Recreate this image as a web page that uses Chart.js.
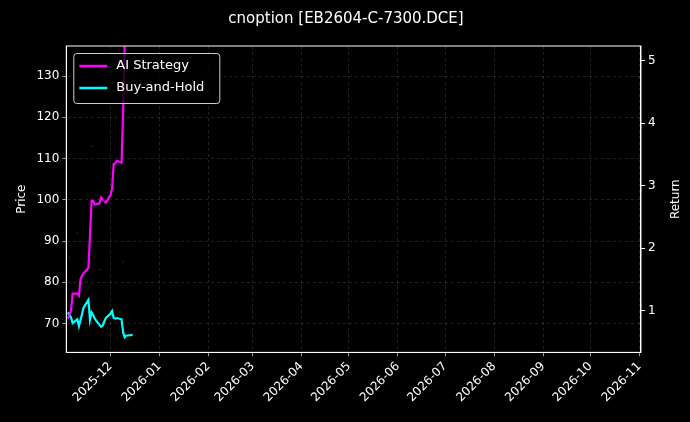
<!DOCTYPE html>
<html><head><meta charset="utf-8">
<script src="https://cdn.jsdelivr.net/npm/chart.js@4"></script>
<style>html,body{margin:0;background:#000;}#w{width:690px;height:422px;}</style>
</head><body><div id="w"><canvas id="c" width="690" height="422"></canvas></div>
<script>
const dates = ["2025-11-04","2025-11-06","2025-11-07","2025-11-10","2025-11-11","2025-11-12","2025-11-13","2025-11-14","2025-11-17","2025-11-18","2025-11-19","2025-11-20","2025-11-21","2025-11-24","2025-11-25","2025-11-26","2025-11-27","2025-11-28","2025-12-01","2025-12-02","2025-12-03","2025-12-04","2025-12-05","2025-12-08","2025-12-09","2025-12-10","2025-12-11","2025-12-12","2025-12-15"];
const aiStrategy = [0.87,1.0,1.27,1.27,1.24,1.5,1.56,1.6,1.68,2.2,2.76,2.76,2.7,2.72,2.81,2.78,2.76,2.73,2.85,2.95,3.35,3.36,3.4,3.37,4.2,5.3,5.6,5.7,5.8];
const buyHold = [0.97,0.89,0.80,0.86,0.75,0.85,0.95,1.05,1.17,0.85,0.97,0.93,0.87,0.77,0.74,0.76,0.82,0.88,0.95,0.99,0.88,0.87,0.88,0.86,0.65,0.57,0.60,0.60,0.61];
const priceDates = ["2025-11-05","2025-11-10","2025-11-19","2025-11-21","2025-11-24","2025-11-27","2025-12-09"];
const prices = [86,92,113,86,83,100,85];
const monthTicks = ["2025-12-01","2026-01-01","2026-02-01","2026-03-01","2026-04-01","2026-05-01","2026-06-01","2026-07-01","2026-08-01","2026-09-01","2026-10-01","2026-11-01"];
const xMin = "2025-11-03", xMax = "2026-11-02";

const ts = s => Date.parse(s + "T00:00:00Z");
const fmt = v => { const d = new Date(v); return d.getUTCFullYear() + "-" + String(d.getUTCMonth()+1).padStart(2,"0"); };
const F = "DejaVu Sans";
Chart.defaults.font.family = F;
Chart.defaults.color = "#fff";

const legendPlugin = {
  id: "lg",
  afterDraw(ch) {
    const c = ch.ctx, a = ch.chartArea;
    const x = a.left + 7, y = a.top + 7, w = 146, h = 50;
    c.save();
    c.fillStyle = "rgba(0,0,0,0.8)"; c.strokeStyle = "#ccc"; c.lineWidth = 1;
    c.beginPath(); c.roundRect(x + 0.5, y + 0.5, w, h, 3); c.fill(); c.stroke();
    const items = [["AI Strategy", "#ff00ff"], ["Buy-and-Hold", "#00ffff"]];
    c.font = "13px " + F; c.textBaseline = "middle";
    items.forEach((it, i) => {
      const yy = y + 13 + i * 22;
      c.strokeStyle = it[1]; c.lineWidth = 2.5;
      c.beginPath(); c.moveTo(x + 6, yy); c.lineTo(x + 34, yy); c.stroke();
      c.fillStyle = "#fff"; c.fillText(it[0], x + 43, yy);
    });
    // right axis title, reading bottom-to-top
    c.translate(676, (a.top + a.bottom) / 2);
    c.rotate(-Math.PI / 2);
    c.font = "12px " + F; c.textAlign = "center"; c.textBaseline = "middle";
    c.fillText("Return", 0, 0);
    c.restore();
  }
};

new Chart(document.getElementById("c"), {
  type: "line",
  data: { datasets: [
    { label: "Price", data: priceDates.map((d,i)=>({x:ts(d),y:prices[i]})), yAxisID: "y", showLine: false, pointRadius: 1.2, pointBackgroundColor: "#3a0010", pointBorderWidth: 0 },
    { label: "AI Strategy", data: dates.map((d,i)=>({x:ts(d),y:aiStrategy[i]})), yAxisID: "y1", borderColor: "#ff00ff", borderWidth: 2.2, pointRadius: 0, tension: 0 },
    { label: "Buy-and-Hold", data: dates.map((d,i)=>({x:ts(d),y:buyHold[i]})), yAxisID: "y1", borderColor: "#00ffff", borderWidth: 2.2, pointRadius: 0, tension: 0 }
  ]},
  options: {
    responsive: false, animation: false,
    layout: { padding: { top: 8, right: 9, left: 11, bottom: 14 } },
    plugins: {
      legend: { display: false },
      title: { display: true, text: "cnoption [EB2604-C-7300.DCE]", color: "#fff", font: { size: 15, weight: "normal", family: F }, padding: { top: 2, bottom: 18 } },
      tooltip: { enabled: false }
    },
    scales: {
      x: { type: "linear", min: ts(xMin), max: ts(xMax),
        afterBuildTicks: ax => { ax.ticks = monthTicks.map(d => ({ value: ts(d) })); },
        ticks: { callback: v => fmt(v), minRotation: 45, maxRotation: 45, font: { size: 12 }, color: "#fff" },
        grid: { color: "rgba(255,255,255,0.22)", tickColor: "#fff", tickLength: 4, lineWidth: 0.6 },
        border: { color: "#fff", dash: [3,3] } },
      y: { position: "left", min: 63, max: 137.3,
        afterBuildTicks: ax => { ax.ticks = [70,80,90,100,110,120,130].map(v=>({value:v})); },
        title: { display: true, text: "Price", color: "#fff", font: { size: 12 } },
        ticks: { font: { size: 12 }, color: "#fff" },
        grid: { color: "rgba(255,255,255,0.22)", tickColor: "#fff", tickLength: 4, lineWidth: 0.6 },
        border: { color: "#fff", dash: [3,3] } },
      y1: { position: "right", min: 0.33, max: 5.24,
        afterBuildTicks: ax => { ax.ticks = [1,2,3,4,5].map(v=>({value:v})); },
        title: { display: true, text: " ", color: "#fff", font: { size: 12 } },
        ticks: { font: { size: 12 }, color: "#fff" },
        grid: { drawOnChartArea: false, tickColor: "#fff", tickLength: 4 },
        border: { color: "#fff" } }
    }
  },
  plugins: [legendPlugin, { id: "frame", afterDraw(ch) { const c = ch.ctx, a = ch.chartArea; c.save(); c.strokeStyle = "#fff"; c.lineWidth = 1; c.strokeRect(a.left, a.top, a.right - a.left, a.bottom - a.top); c.restore(); } }]
});
</script></body></html>
